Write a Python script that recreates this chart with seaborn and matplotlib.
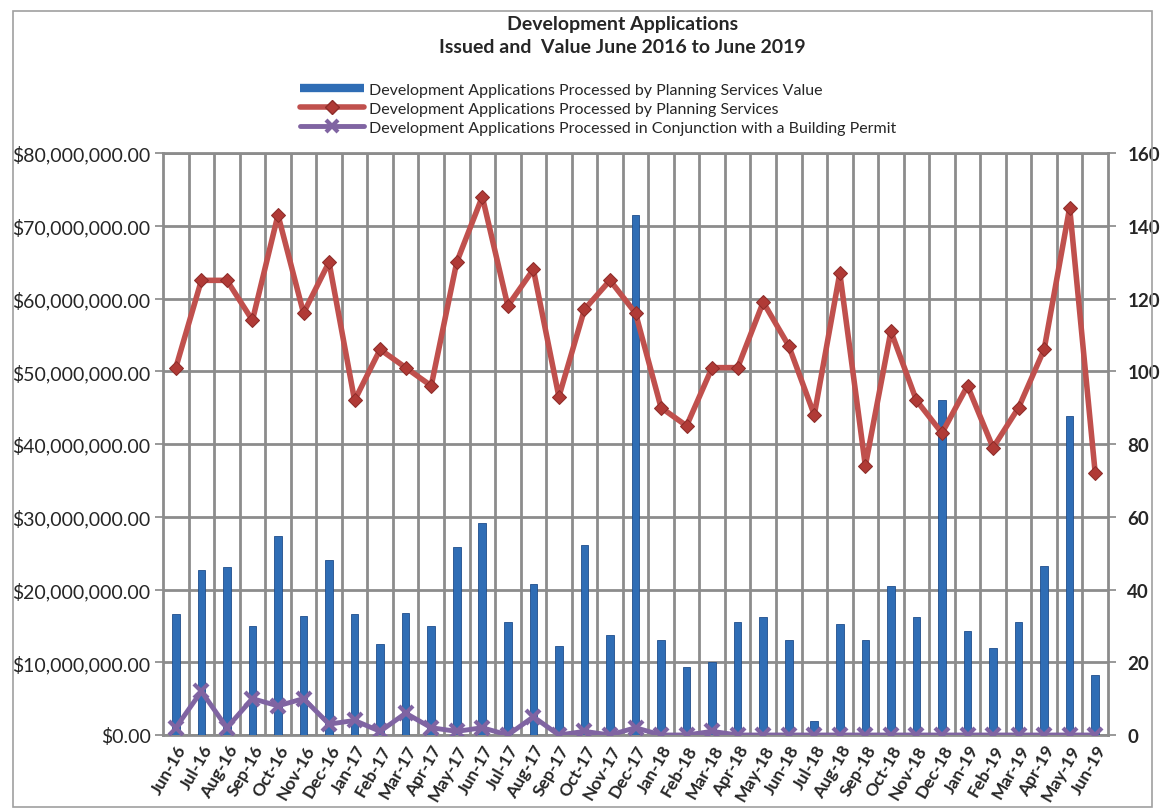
import numpy as np
import pandas as pd
import matplotlib
matplotlib.use("Agg")
import matplotlib.pyplot as plt
from matplotlib.lines import Line2D
from matplotlib.patches import Rectangle
from matplotlib.ticker import FuncFormatter, MultipleLocator
import seaborn as sns

sns.set_theme(style="white")
plt.rcParams['font.family'] = ['Lato', 'DejaVu Sans']

# months shown on the x axis
months = ["Jun-16", "Jul-16", "Aug-16", "Sep-16", "Oct-16", "Nov-16", "Dec-16",
          "Jan-17", "Feb-17", "Mar-17", "Apr-17", "May-17", "Jun-17", "Jul-17",
          "Aug-17", "Sep-17", "Oct-17", "Nov-17", "Dec-17", "Jan-18", "Feb-18",
          "Mar-18", "Apr-18", "May-18", "Jun-18", "Jul-18", "Aug-18", "Sep-18",
          "Oct-18", "Nov-18", "Dec-18", "Jan-19", "Feb-19", "Mar-19", "Apr-19",
          "May-19", "Jun-19"]

# value of applications processed by planning services ($ millions)
value = [16.7, 22.7, 23.1, 15.0, 27.3, 16.3, 24.1, 16.6, 12.5, 16.8, 15.0,
         25.8, 29.2, 15.5, 20.8, 12.3, 26.1, 13.7, 71.5, 13.1, 9.3, 10.0,
         15.6, 16.2, 13.0, 1.9, 15.2, 13.0, 20.5, 16.2, 46.0, 14.3, 12.0,
         15.5, 23.2, 43.8, 8.2]
value = [v * 1e6 for v in value]

# number processed by planning services
processed = [101, 125, 125, 114, 143, 116, 130, 92, 106, 101, 96, 130, 148,
             118, 128, 93, 117, 125, 116, 90, 85, 101, 101, 119, 107, 88, 127,
             74, 111, 92, 83, 96, 79, 90, 106, 145, 72]

# number processed in conjunction with a building permit
with_permit = [2, 12, 2, 10, 8, 10, 3, 4, 1, 6, 2, 1, 2, 0, 5, 0, 1, 0, 2,
               0, 0, 1, 0, 0, 0, 0, 0, 0, 0, 0, 0, 0, 0, 0, 0, 0, 0]

label_value = "Development Applications Processed by Planning Services Value"
label_proc = "Development Applications Processed by Planning Services"
label_permit = "Development Applications Processed in Conjunction with a Building Permit"

df = pd.DataFrame({"month": months, "value": value,
                   "processed": processed, "permit": with_permit})
df["pos"] = np.arange(len(df))

bar_color = "#2F6DB5"
red = "#C0504D"
purple = "#8064A2"
grid_color = "#8C8C8C"

fig = plt.figure(figsize=(11.68, 8.12), dpi=100)
ax = fig.add_axes([0.1396, 0.0936, 0.809, 0.7167])

sns.barplot(data=df, x="month", y="value", ax=ax, color=bar_color,
            width=0.3, edgecolor="#1F4E8C", linewidth=0.6, saturation=1,
            zorder=3)

ax.set_ylim(0, 80e6)
ax.set_xlim(-0.5, len(months) - 0.5)
ax.yaxis.set_major_locator(MultipleLocator(10e6))
ax.yaxis.set_major_formatter(FuncFormatter(lambda v, p: f"${v:,.2f}"))
ax.set_xlabel("")
ax.set_ylabel("")
ax.set_xticks(df["pos"])
ax.set_xticklabels(months, rotation=60, ha="right", rotation_mode="anchor",
                   fontsize=12.5, fontweight="bold")
ax.tick_params(axis="x", length=0, pad=5)
ax.tick_params(axis="y", labelsize=14, length=6, color=grid_color, pad=3)

# grid: horizontal on value ticks, vertical between months
ax.set_xticks(df["pos"][:-1] + 0.5, minor=True)
ax.grid(axis="y", which="major", color=grid_color, linewidth=2, zorder=0)
ax.grid(axis="x", which="minor", color=grid_color, linewidth=2, zorder=0)
ax.tick_params(axis="x", which="minor", length=0)
ax.set_axisbelow(True)
for s in ax.spines.values():
    s.set_color(grid_color)
    s.set_linewidth(2)

ax2 = ax.twinx()
sns.lineplot(data=df, x="pos", y="processed", ax=ax2, color=red, linewidth=4,
             marker="D", markersize=7, markerfacecolor="#B03A36",
             markeredgecolor="#8E2C29", zorder=5)
sns.lineplot(data=df, x="pos", y="permit", ax=ax2, color=purple, linewidth=3.5,
             marker="x", markersize=10, markeredgewidth=3,
             markeredgecolor=purple, zorder=5)
ax2.set_ylim(0, 160)
ax2.set_xlim(-0.5, len(months) - 0.5)
ax2.yaxis.set_major_locator(MultipleLocator(20))
ax2.set_ylabel("")
ax2.set_xlabel("")
ax2.tick_params(axis="y", labelsize=13.5, length=6, color=grid_color, pad=8)
for t in ax2.get_yticklabels():
    t.set_fontweight("bold")
for s in ax2.spines.values():
    s.set_visible(False)

fig.text(0.533, 0.970, "Development Applications", ha="center", va="center",
         fontsize=14, fontweight="bold")
fig.text(0.533, 0.942, "Issued and  Value June 2016 to June 2019", ha="center",
         va="center", fontsize=14, fontweight="bold")

handles = [
    Line2D([], [], color=bar_color, linewidth=6, solid_capstyle="butt"),
    Line2D([], [], color=red, linewidth=4, marker="D", markersize=7,
           markerfacecolor="#B03A36", markeredgecolor="#8E2C29"),
    Line2D([], [], color=purple, linewidth=3.5, marker="x", markersize=9,
           markeredgewidth=3),
]
fig.legend(handles, [label_value, label_proc, label_permit],
           loc="upper left", bbox_to_anchor=(0.257, 0.897), frameon=False,
           fontsize=11.5, handlelength=4.0, handletextpad=0.3,
           labelspacing=0.3, borderaxespad=0, borderpad=0)

fig.patches.append(Rectangle((0.011, 0.005), 0.975, 0.98,
                             transform=fig.transFigure, fill=False,
                             edgecolor="#A0A0A0", linewidth=1.2))

plt.savefig("out.png", dpi=100)
